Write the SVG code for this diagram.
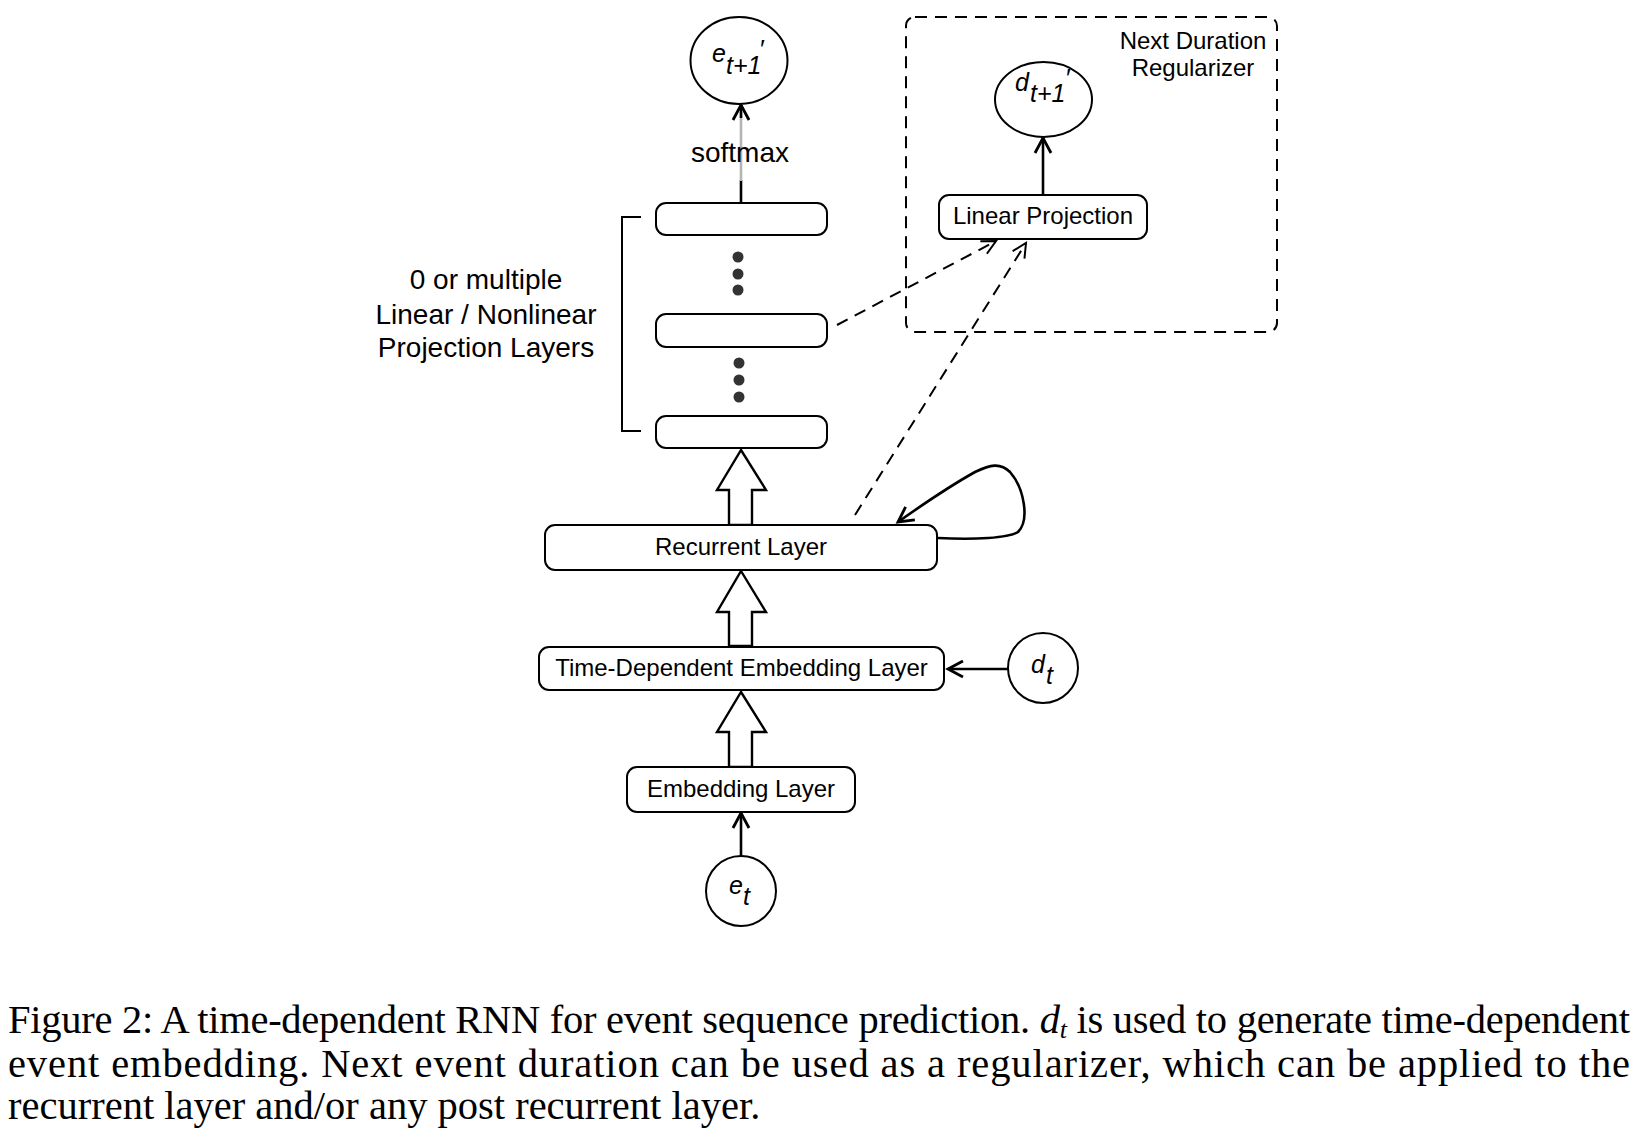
<svg xmlns="http://www.w3.org/2000/svg" width="1645" height="1138" viewBox="0 0 1645 1138">
<style>
.box{fill:#fff;stroke:#000;stroke-width:2}
.lbl{font-family:"Liberation Sans",Arial,sans-serif;font-size:24px;fill:#000;text-anchor:middle}
.big{font-family:"Liberation Sans",Arial,sans-serif;font-size:28px;fill:#000;text-anchor:middle}
.math{font-family:"Liberation Sans",Arial,sans-serif;font-size:25px;font-style:italic;fill:#000}
.prime{font-family:"Liberation Sans",Arial,sans-serif;font-size:26px;fill:#000}
.ln{fill:none;stroke:#000;stroke-width:2.6}
.dash{fill:none;stroke:#000;stroke-width:2;stroke-dasharray:12 8}
.hollow{fill:#fff;stroke:#000;stroke-width:2.4;stroke-linejoin:miter}
.cap{font-family:"Liberation Serif","Times New Roman",serif;font-size:40.5px;fill:#000}
.dot{fill:#333}
</style>
<defs>
<marker id="open" markerUnits="userSpaceOnUse" markerWidth="22" markerHeight="22" refX="16" refY="9" orient="auto" viewBox="0 0 22 18">
<path d="M1,1 L16,9 L1,17" fill="none" stroke="#000" stroke-width="2.8"/>
</marker>
<marker id="openthin" markerUnits="userSpaceOnUse" markerWidth="20" markerHeight="20" refX="15" refY="8" orient="auto" viewBox="0 0 20 16">
<path d="M1,1 L15,8 L1,15" fill="none" stroke="#000" stroke-width="2"/>
</marker>
</defs>

<g id="regularizer-frame">
<rect x="906" y="17" width="371" height="315" rx="9" class="dash"/>
<text class="lbl" x="1193" y="49">Next Duration</text>
<text class="lbl" x="1193" y="76">Regularizer</text>
</g>

<g id="connectors">
<line x1="741" y1="203" x2="741" y2="180" class="ln"/>
<line x1="741" y1="181" x2="741" y2="112" stroke="#b4b4b4" stroke-width="2.6"/>
<line x1="741" y1="118" x2="741" y2="105" class="ln" marker-end="url(#open)"/>
<line x1="1043" y1="195" x2="1043" y2="138" class="ln" marker-end="url(#open)"/>
<line x1="1008" y1="669" x2="948" y2="669" class="ln" marker-end="url(#open)"/>
<line x1="741" y1="856" x2="741" y2="813" class="ln" marker-end="url(#open)"/>
<path d="M938,538 C975,540 1008,538 1018,532 C1030,520 1024,488 1010,472 C1000,462 990,465 975,472 C950,486 922,505 898,522" class="ln" marker-end="url(#open)"/>
<line x1="837" y1="325" x2="996" y2="241" class="dash" marker-end="url(#openthin)"/>
<line x1="855" y1="515" x2="1026" y2="243" class="dash" marker-end="url(#openthin)"/>
<polygon points="741,450 766,490 752,490 752,525 729,525 729,490 717,490" class="hollow"/>
<polygon points="741,571 766,612 752,612 752,646 729,646 729,612 717,612" class="hollow"/>
<polygon points="741,692 766,732 752,732 752,767 729,767 729,732 717,732" class="hollow"/>
<path d="M641,217 H622 V431 H641" fill="none" stroke="#000" stroke-width="2"/>
</g>

<g id="node-e-next">
<ellipse cx="739" cy="60.5" rx="48.5" ry="43.5" class="box"/>
<text class="math" x="712" y="62">e</text>
<text class="math" x="726" y="74">t+1</text>
<text class="prime" x="760" y="58">′</text>
</g>

<g id="softmax-label">
<text class="big" x="740" y="162">softmax</text>
</g>

<g id="proj-top"><rect x="656" y="203" width="171" height="32" rx="10" class="box"/></g>
<g id="dots-upper">
<circle cx="738" cy="257" r="5.5" class="dot"/>
<circle cx="738" cy="274" r="5.5" class="dot"/>
<circle cx="738" cy="290" r="5.5" class="dot"/>
</g>
<g id="proj-mid"><rect x="656" y="314" width="171" height="33" rx="10" class="box"/></g>
<g id="dots-lower">
<circle cx="739" cy="363" r="5.5" class="dot"/>
<circle cx="739" cy="380" r="5.5" class="dot"/>
<circle cx="739" cy="397" r="5.5" class="dot"/>
</g>
<g id="proj-bottom"><rect x="656" y="416" width="171" height="32" rx="10" class="box"/></g>

<g id="proj-layers-label">
<text class="big" x="486" y="289">0 or multiple</text>
<text class="big" x="486" y="324">Linear / Nonlinear</text>
<text class="big" x="486" y="357">Projection Layers</text>
</g>

<g id="linear-projection">
<rect x="939" y="195" width="208" height="44" rx="10" class="box"/>
<text class="lbl" x="1043" y="224">Linear Projection</text>
</g>

<g id="node-d-next">
<ellipse cx="1043.5" cy="99.5" rx="48.5" ry="37.5" class="box"/>
<text class="math" x="1015" y="91">d</text>
<text class="math" x="1030" y="102">t+1</text>
<text class="prime" x="1066" y="87">′</text>
</g>

<g id="recurrent-layer">
<rect x="545" y="525" width="392" height="45" rx="10" class="box"/>
<text class="lbl" x="741" y="555">Recurrent Layer</text>
</g>

<g id="time-dependent-embedding">
<rect x="539" y="647" width="405" height="43" rx="10" class="box"/>
<text class="lbl" x="741.5" y="676">Time-Dependent Embedding Layer</text>
</g>

<g id="node-d-t">
<circle cx="1043" cy="668" r="35" class="box"/>
<text class="math" x="1031" y="673">d</text>
<text class="math" x="1046" y="684">t</text>
</g>

<g id="embedding-layer">
<rect x="627" y="767" width="228" height="45" rx="10" class="box"/>
<text class="lbl" x="741" y="797">Embedding Layer</text>
</g>

<g id="node-e-t">
<circle cx="741" cy="891" r="35" class="box"/>
<text class="math" x="729" y="894">e</text>
<text class="math" x="743" y="905">t</text>
</g>

<g id="caption">
<text class="cap" x="8" y="1033" textLength="1622" lengthAdjust="spacing">Figure 2: A time-dependent RNN for event sequence prediction. <tspan font-style="italic">d</tspan><tspan font-style="italic" font-size="26px" dy="5">t</tspan><tspan dy="-5"> is used to generate time-dependent</tspan></text>
<text class="cap" x="8" y="1077" textLength="1622" lengthAdjust="spacing">event embedding.  Next event duration can be used as a regularizer, which can be applied to the</text>
<text class="cap" x="8" y="1119">recurrent layer and/or any post recurrent layer.</text>
</g>
</svg>
